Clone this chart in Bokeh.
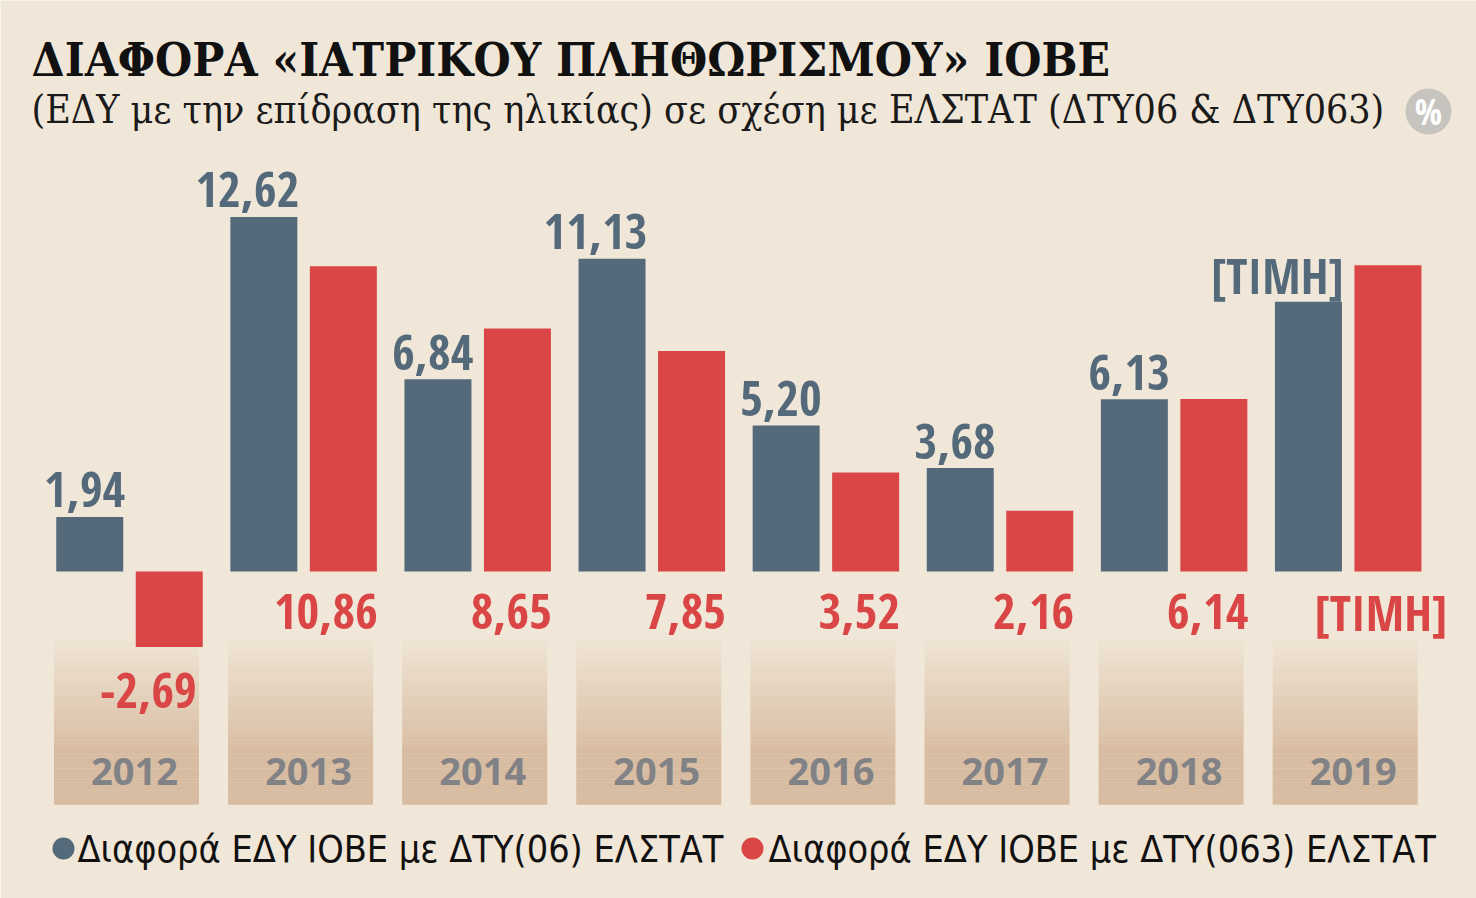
import numpy as np
from bokeh.plotting import figure
from bokeh.models import Range1d, ColumnDataSource
from bokeh.core.properties import value
from bokeh.embed import file_html
from bokeh.resources import INLINE

# ---------------- data ----------------
years = ["2012", "2013", "2014", "2015", "2016", "2017", "2018", "2019"]
iobe_vs_dty06 = [1.94, 12.62, 6.84, 11.13, 5.20, 3.68, 6.13, 9.6]
iobe_vs_dty063 = [-2.69, 10.86, 8.65, 7.85, 3.52, 2.16, 6.14, 10.9]
labels_dty06 = ["1,94", "12,62", "6,84", "11,13", "5,20", "3,68", "6,13", "[ΤΙΜΗ]"]
labels_dty063 = ["-2,69", "10,86", "8,65", "7,85", "3,52", "2,16", "6,14", "[ΤΙΜΗ]"]
title_text = "ΔΙΑΦΟΡΑ «ΙΑΤΡΙΚΟΥ ΠΛΗΘΩΡΙΣΜΟΥ» ΙΟΒΕ"
subtitle_text = "(ΕΔΥ με την επίδραση της ηλικίας) σε σχέση με ΕΛΣΤΑΤ (ΔΤΥ06 & ΔΤΥ063)"
legend_labels = ["Διαφορά ΕΔΥ ΙΟΒΕ με ΔΤΥ(06) ΕΛΣΤΑΤ", "Διαφορά ΕΔΥ ΙΟΒΕ με ΔΤΥ(063) ΕΛΣΤΑΤ"]

# ---------------- style / layout ----------------
W, H = 1476, 898
BG = "#f1e7d8"
DARK = "#546a7b"
RED = "#da4646"
TAN = (216, 188, 162)
YEAR_COL = "#818285"
X0, GX = 129.0, 174.1      # pixel of first group centre, pixels per group
Y0, SY = 571.0, 28.1       # pixel of zero line, pixels per unit

COND = "'Open Sans Condensed', 'Roboto Condensed', 'Roboto', sans-serif"
SERIF = "'DejaVu Serif Condensed', 'DejaVu Serif', serif"
LEG = "'DejaVu Sans Condensed', 'DejaVu Sans', sans-serif"
VAL_SIZE = "49px"


def dx(px):
    return (px - X0) / GX


def dy(py):
    return (Y0 - py) / SY


p = figure(width=W, height=H, x_range=Range1d(dx(0), dx(W)), y_range=Range1d(dy(H), dy(0)),
           min_border=0, toolbar_location=None, output_backend="svg",
           x_axis_type=None, y_axis_type=None,
           background_fill_color=BG, border_fill_color=BG, outline_line_color=None)
p.grid.visible = False

n = len(years)
idx = np.arange(n)
off = 39.75 / GX
bw = 67.0 / GX

# year boxes with vertical gradient (thin strips)
box_top, box_bot = 637.0, 804.0
box_w = 145.0 / GX
box_c = idx - 3.0 / GX
nstrip = 60
bg_rgb = (241, 231, 216)
qs = dict(left=[], right=[], top=[], bottom=[], color=[])
for s in range(nstrip):
    t0 = s / nstrip
    t1 = (s + 1) / nstrip
    t = min(1.0, (t0 + 0.04) / 0.72)
    c = tuple(int(round(bg_rgb[k] + (TAN[k] - bg_rgb[k]) * t)) for k in range(3))
    col = "#%02x%02x%02x" % c
    for i in range(n):
        qs["left"].append(box_c[i] - box_w / 2)
        qs["right"].append(box_c[i] + box_w / 2)
        qs["top"].append(dy(box_top + (box_bot - box_top) * t0))
        qs["bottom"].append(dy(box_top + (box_bot - box_top) * t1) - 0.01)
        qs["color"].append(col)
p.quad(left="left", right="right", top="top", bottom="bottom", fill_color="color",
       line_color=None, source=ColumnDataSource(qs))

# year labels
p.text(x=list(idx + 5.0 / GX), y=[dy(771)] * n, text=years, text_align="center",
       text_baseline="middle", text_font=value("Open Sans"), text_font_style="bold",
       text_font_size="38px", text_color=YEAR_COL)

# bars
p.vbar(x=list(idx - off), top=iobe_vs_dty06, bottom=0, width=bw, fill_color=DARK, line_color=None)
p.vbar(x=list(idx + off), top=iobe_vs_dty063, bottom=0, width=bw, fill_color=RED, line_color=None)

# value labels
p.text(x=list(idx - off + bw / 2 + 2.0 / GX), y=iobe_vs_dty06, text=labels_dty06,
       text_align="right", text_baseline="middle", y_offset=-27,
       text_font=value(COND), text_font_style="bold", text_font_size=VAL_SIZE, text_color=DARK)

red_x = []
red_yoff = []
for i, v in enumerate(iobe_vs_dty063):
    shift = 1.0
    if labels_dty063[i].startswith("["):
        shift = 26.0
    elif v < 0:
        shift = -6.0
    red_x.append(i + off + bw / 2 + shift / GX)
    red_yoff.append(43 if v < 0 else 40)
p.text(x=red_x, y=[min(0, v) for v in iobe_vs_dty063], text=labels_dty063,
       text_align="right", text_baseline="middle", y_offset=red_yoff,
       text_font=value(COND), text_font_style="bold", text_font_size=VAL_SIZE, text_color=RED)

# title & subtitle
p.text(x=[dx(31)], y=[dy(58)], text=[title_text], text_align="left", text_baseline="middle",
       text_font=value(SERIF), text_font_style="bold", text_font_size="47.5px", text_color="#111111")
p.text(x=[dx(31)], y=[dy(109)], text=[subtitle_text], text_align="left", text_baseline="middle",
       text_font=value(SERIF), text_font_style="normal", text_font_size="39px", text_color="#1a1a1a")

# % badge
p.circle(x=[dx(1428)], y=[dy(111)], radius=23, radius_units="screen", fill_color="#c7c4bf", line_color=None)
p.text(x=[dx(1428)], y=[dy(111)], text=["%"], text_align="center", text_baseline="middle",
       text_font=value(COND), text_font_style="bold", text_font_size="36px", text_color="#ffffff")

# legend
p.circle(x=[dx(63), dx(752)], y=[dy(848), dy(848)], radius=11, radius_units="screen",
         fill_color=[DARK, RED], line_color=None)
p.text(x=[dx(77), dx(768)], y=[dy(848), dy(848)], text=legend_labels, text_align="left",
       text_baseline="middle", text_font=value(LEG), text_font_size="37.5px", text_color="#111111")

open("out.html", "w").write(file_html(p, INLINE))
